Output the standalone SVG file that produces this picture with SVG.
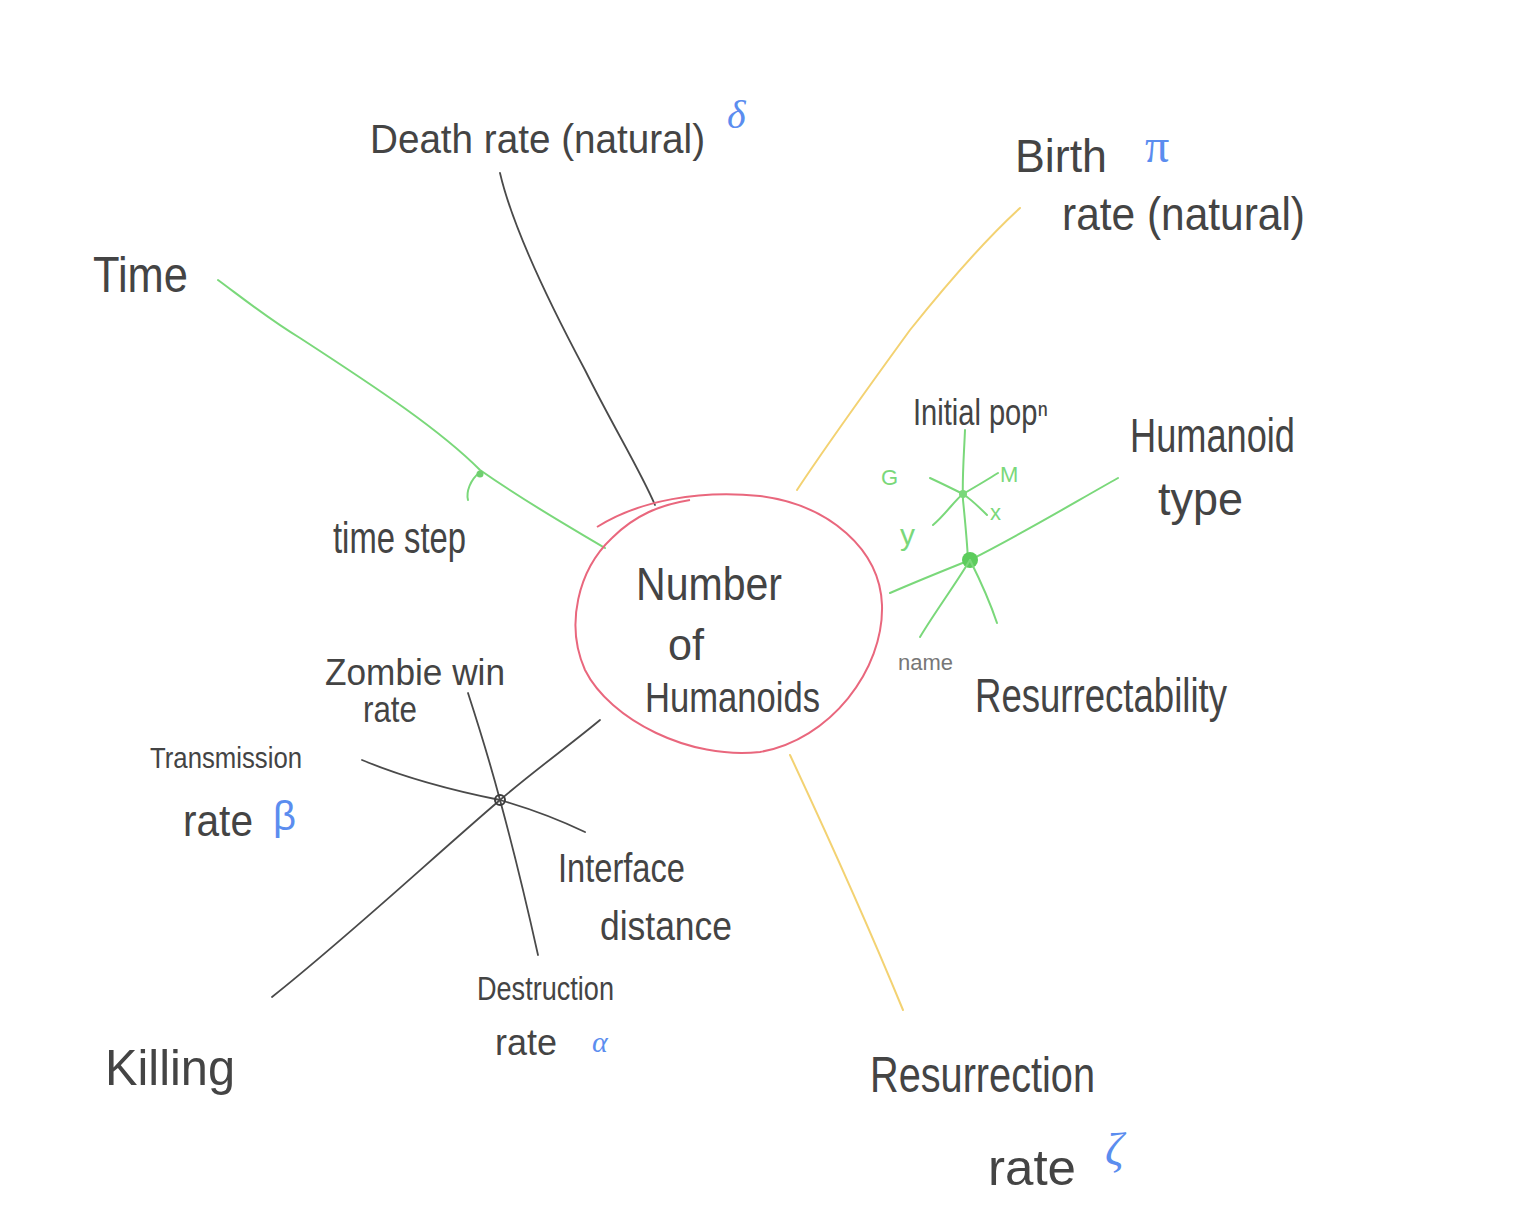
<svg xmlns="http://www.w3.org/2000/svg" width="1536" height="1214" viewBox="0 0 1536 1214">
<style>
.t{font-family:"Liberation Sans",Arial,sans-serif;fill:#444444;font-weight:normal}
.b{font-family:"Liberation Serif","DejaVu Serif",serif;fill:#5b8def;font-style:italic}
.g{font-family:"Liberation Sans",Arial,sans-serif;fill:#7ad87a}
.k{stroke:#4a4a4a;stroke-width:1.8;fill:none;stroke-linecap:round}
.gr{stroke:#7ad87a;stroke-width:2;fill:none;stroke-linecap:round}
.y{stroke:#f3d272;stroke-width:2;fill:none;stroke-linecap:round}
</style>
<rect width="1536" height="1214" fill="#ffffff"/>
<g id="connectors">
  <path class="k" d="M500,173 C512,225 545,295 585,370 C615,430 640,470 655,505"/>
  <path class="gr" d="M218,280 C245,300 270,320 300,338 C380,390 440,430 480,470 C530,505 575,530 605,548"/>
  <path class="gr" d="M480,472 C470,480 466,492 468,500"/>
  <circle cx="480" cy="474" r="3.5" fill="#6fcf6f"/>
  <path class="y" d="M1020,208 C985,240 950,280 910,330 C870,385 830,440 797,490"/>
  <path class="y" d="M790,755 C825,830 870,930 903,1010"/>
  <path class="gr" d="M890,593 C920,580 945,570 970,560 C1020,535 1070,505 1118,478"/>
  <path class="gr" d="M965,430 C964,455 962,478 963,500 C965,520 967,540 968,560"/>
  <path class="gr" d="M930,478 C945,485 955,490 963,494 C972,500 980,508 987,515"/>
  <path class="gr" d="M933,525 C945,515 955,500 963,494 C975,487 987,480 998,473"/>
  <circle cx="963" cy="494" r="4" fill="#7ad87a"/>
  <circle cx="970" cy="560" r="8" fill="#5ccc5c"/>
  <path class="gr" d="M970,560 C955,585 935,612 920,637"/>
  <path class="gr" d="M970,560 C980,580 990,602 997,623"/>
  <path class="k" d="M468,693 C480,730 492,770 500,800 C515,855 528,910 538,955"/>
  <path class="k" d="M362,760 C410,780 460,792 500,800 C535,810 560,820 585,832"/>
  <path class="k" d="M272,997 C350,935 430,860 500,800 C535,770 570,745 600,720"/>
  <circle cx="500" cy="800" r="5" fill="none" stroke="#3d3d3d" stroke-width="2"/>
</g>
<g id="center">
  <path d="M597,527 C640,500 700,490 760,496 C830,505 880,550 882,605 C884,670 830,740 760,752 C690,760 610,720 585,670 C565,625 578,570 612,538 C635,515 660,505 690,500" fill="none" stroke="#e9677d" stroke-width="2"/>
  <text class="t" x="636" y="600" font-size="46" textLength="146" lengthAdjust="spacingAndGlyphs">Number</text>
  <text class="t" x="668" y="660" font-size="44" textLength="36" lengthAdjust="spacingAndGlyphs">of</text>
  <text class="t" x="645" y="712" font-size="42" textLength="175" lengthAdjust="spacingAndGlyphs">Humanoids</text>
</g>
<g id="death-rate">
  <text class="t" x="370" y="153" font-size="40" textLength="335" lengthAdjust="spacingAndGlyphs">Death rate (natural)</text>
  <text class="b" x="727" y="128" font-size="40">δ</text>
</g>
<g id="birth-rate">
  <text class="t" x="1015" y="172" font-size="46" textLength="92" lengthAdjust="spacingAndGlyphs">Birth</text>
  <text class="b" x="1145" y="162" font-size="48" style="font-style:normal">π</text>
  <text class="t" x="1062" y="230" font-size="46" textLength="243" lengthAdjust="spacingAndGlyphs">rate (natural)</text>
</g>
<g id="time">
  <text class="t" x="93" y="292" font-size="50" textLength="95" lengthAdjust="spacingAndGlyphs">Time</text>
</g>
<g id="time-step">
  <text class="t" x="333" y="553" font-size="44" textLength="133" lengthAdjust="spacingAndGlyphs">time step</text>
</g>
<g id="initial-pop">
  <text class="t" x="913" y="425" font-size="36" textLength="135" lengthAdjust="spacingAndGlyphs">Initial popⁿ</text>
  <text class="g" x="881" y="485" font-size="22">G</text>
  <text class="g" x="1000" y="482" font-size="22">M</text>
  <text class="g" x="900" y="545" font-size="30">y</text>
  <text class="g" x="990" y="520" font-size="22">x</text>
</g>
<g id="humanoid-type">
  <text class="t" x="1130" y="452" font-size="48" textLength="165" lengthAdjust="spacingAndGlyphs">Humanoid</text>
  <text class="t" x="1158" y="515" font-size="46" textLength="85" lengthAdjust="spacingAndGlyphs">type</text>
</g>
<g id="name">
  <text class="t" x="898" y="670" font-size="22" style="fill:#777" textLength="55" lengthAdjust="spacingAndGlyphs">name</text>
</g>
<g id="resurrectability">
  <text class="t" x="975" y="712" font-size="48" textLength="252" lengthAdjust="spacingAndGlyphs">Resurrectability</text>
</g>
<g id="zombie-win-rate">
  <text class="t" x="325" y="685" font-size="36" textLength="180" lengthAdjust="spacingAndGlyphs">Zombie win</text>
  <text class="t" x="363" y="722" font-size="36" textLength="54" lengthAdjust="spacingAndGlyphs">rate</text>
</g>
<g id="transmission-rate">
  <text class="t" x="150" y="768" font-size="30" textLength="152" lengthAdjust="spacingAndGlyphs">Transmission</text>
  <text class="t" x="183" y="836" font-size="44" textLength="70" lengthAdjust="spacingAndGlyphs">rate</text>
  <text class="b" x="273" y="830" font-size="40" style="font-style:normal;font-family:'Liberation Sans',sans-serif">β</text>
</g>
<g id="interface-distance">
  <text class="t" x="558" y="882" font-size="40" textLength="127" lengthAdjust="spacingAndGlyphs">Interface</text>
  <text class="t" x="600" y="940" font-size="40" textLength="132" lengthAdjust="spacingAndGlyphs">distance</text>
</g>
<g id="destruction-rate">
  <text class="t" x="477" y="1000" font-size="34" textLength="137" lengthAdjust="spacingAndGlyphs">Destruction</text>
  <text class="t" x="495" y="1055" font-size="36" textLength="62" lengthAdjust="spacingAndGlyphs">rate</text>
  <text class="b" x="592" y="1052" font-size="30">α</text>
</g>
<g id="killing">
  <text class="t" x="105" y="1085" font-size="50" textLength="130" lengthAdjust="spacingAndGlyphs">Killing</text>
</g>
<g id="resurrection-rate">
  <text class="t" x="870" y="1092" font-size="50" textLength="225" lengthAdjust="spacingAndGlyphs">Resurrection</text>
  <text class="t" x="988" y="1185" font-size="50" textLength="88" lengthAdjust="spacingAndGlyphs">rate</text>
  <text class="b" x="1105" y="1165" font-size="46">ζ</text>
</g>
</svg>
